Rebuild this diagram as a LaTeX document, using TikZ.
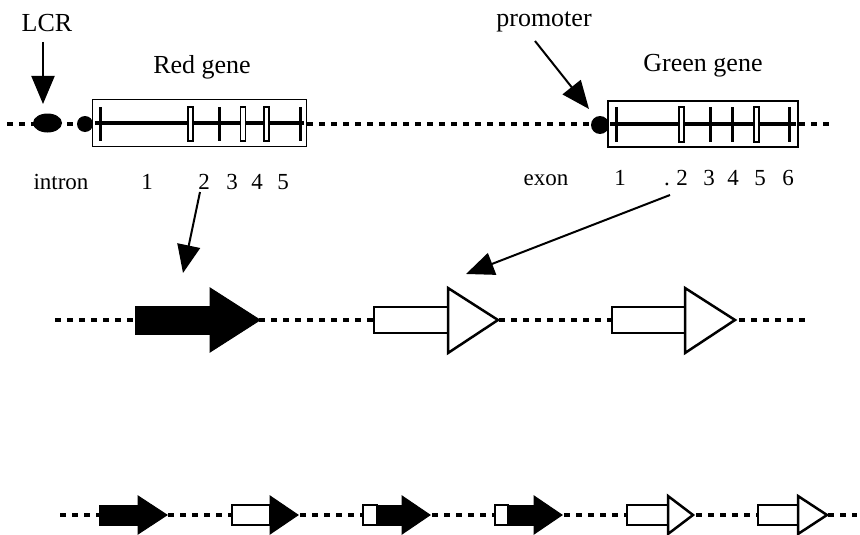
\documentclass[tikz,border=0pt]{standalone}
\usepackage{fontspec}
\setmainfont{Liberation Serif}
\usetikzlibrary{arrows.meta,shapes.geometric}
\begin{document}
\begin{tikzpicture}[x=1pt,y=-1pt,
  title/.style={font=\fontsize{26}{30}\selectfont, anchor=base, inner sep=0pt},
  lab/.style={font=\fontsize{23}{27}\selectfont, anchor=base, inner sep=0pt},
  dna/.style={line width=4pt, dash pattern=on 6pt off 6pt},
  genebox/.style={draw, line width=1.5pt, fill=white, inner sep=0pt},
  strand/.style={line width=4.5pt},
  tickmark/.style={line width=3pt},
  opentick/.style={draw, line width=1.2pt, fill=white},
  bigarrow/.style={line width=2pt, -{Triangle[length=28pt, width=23pt]}},
  blk/.style={fill=black, draw=black, line width=1pt, line join=miter},
  wht/.style={fill=white, draw=black, line width=2.5pt, line join=miter}
]
\useasboundingbox (0,0) rectangle (860,535);

% ---------- top row: DNA ----------
\draw[dna] (7,124) -- (832,124);
\node[genebox, minimum width=214pt, minimum height=47pt] (redbox) at (199.5,123) {};
\node[genebox, minimum width=190pt, minimum height=46pt] (greenbox) at (703,124) {};
\draw[strand, shorten <=3pt, shorten >=3pt] (redbox.west) -- (redbox.east);
\draw[strand, shorten <=3pt, shorten >=3pt] (greenbox.west) -- (greenbox.east);
\node[ellipse, fill=black, minimum width=29pt, minimum height=19pt, inner sep=0pt] (lcrel) at (47.5,123) {};
\node[circle, fill=black, minimum size=16pt, inner sep=0pt] (promA) at (85,124) {};
\node[circle, fill=black, minimum size=18pt, inner sep=0pt] (promB) at (600,125) {};

% red gene exons / introns
\foreach \x in {100,219,300} \draw[tickmark] (\x,107) -- (\x,141);
\foreach \x in {190.5,243,266.5} \draw[opentick] (\x-2.5,107) rectangle (\x+2.5,141);
% green gene
\foreach \x in {616,710,732,789} \draw[tickmark] (\x,107) -- (\x,142);
\foreach \x in {681.5,756.5} \draw[opentick] (\x-2.5,107) rectangle (\x+2.5,142);

% labels
\node[title] (lcr) at (47,32) {LCR};
\node[title] (redt) at (202,74) {Red gene};
\node[title] (prom) at (544,27) {promoter};
\node[title] (greent) at (703,72) {Green gene};
\node[lab] (intron) at (61,189) {intron};
\node[lab] (r1) at (147,189) {1};
\node[lab] (r2) at (204,189) {2};
\node[lab] (r3) at (232,189) {3};
\node[lab] (r4) at (257,189) {4};
\node[lab] (r5) at (283,189) {5};
\node[lab] (exon) at (546,185) {exon};
\node[lab] (g1) at (620,185) {1};
\node[lab] (gdot) at (667,185) {.};
\node[lab] (g2) at (682,185) {2};
\node[lab] (g3) at (709,185) {3};
\node[lab] (g4) at (733,185) {4};
\node[lab] (g5) at (760,185) {5};
\node[lab] (g6) at (788,185) {6};

% pointer arrows
\coordinate (lcrS) at (43,42);
\coordinate (lcrT) at (43,104);
\coordinate (promS) at (535,41);
\coordinate (promT) at (589,109);
\coordinate (redS) at (200,192);
\coordinate (redT) at (183,273);
\coordinate (grnS) at (670,195);
\coordinate (grnT) at (466,274);
\draw[bigarrow] (lcrS) -- (lcrT);
\draw[bigarrow] (promS) -- (promT);
\draw[bigarrow] (redS) -- (redT);
\draw[bigarrow] (grnS) -- (grnT);

% ---------- middle row ----------
\draw[dna] (55,320) -- (805,320);
\draw[blk] (135,306) rectangle (210,334);
\draw[blk] (210,288) -- (260,320) -- (210,352) -- cycle;
\draw[wht] (374,307) rectangle (448,333);
\draw[wht] (448,288) -- (498,320) -- (448,353) -- cycle;
\draw[wht] (612,307) rectangle (685,333);
\draw[wht] (685,288) -- (735,320) -- (685,353) -- cycle;

% ---------- bottom row ----------
\draw[dna] (60,515) -- (857,515);
% 1
\draw[blk] (99,505) rectangle (138,525);
\draw[blk] (138,496) -- (167,515) -- (138,534) -- cycle;
% 2
\draw[wht] (232,505) rectangle (270,525);
\draw[blk] (270,496) -- (298,515) -- (270,534) -- cycle;
% 3
\draw[wht] (363,505) rectangle (377,525);
\draw[blk] (377,505) rectangle (402,525);
\draw[blk] (402,496) -- (430,515) -- (402,534) -- cycle;
% 4
\draw[wht] (495,505) rectangle (508,525);
\draw[blk] (508,505) rectangle (534,525);
\draw[blk] (534,496) -- (562,515) -- (534,534) -- cycle;
% 5
\draw[wht] (627,505) rectangle (668,525);
\draw[wht] (668,496) -- (693,515) -- (668,534) -- cycle;
% 6
\draw[wht] (758,505) rectangle (798,525);
\draw[wht] (798,496) -- (827,515) -- (798,534) -- cycle;
\end{tikzpicture}
\end{document}
